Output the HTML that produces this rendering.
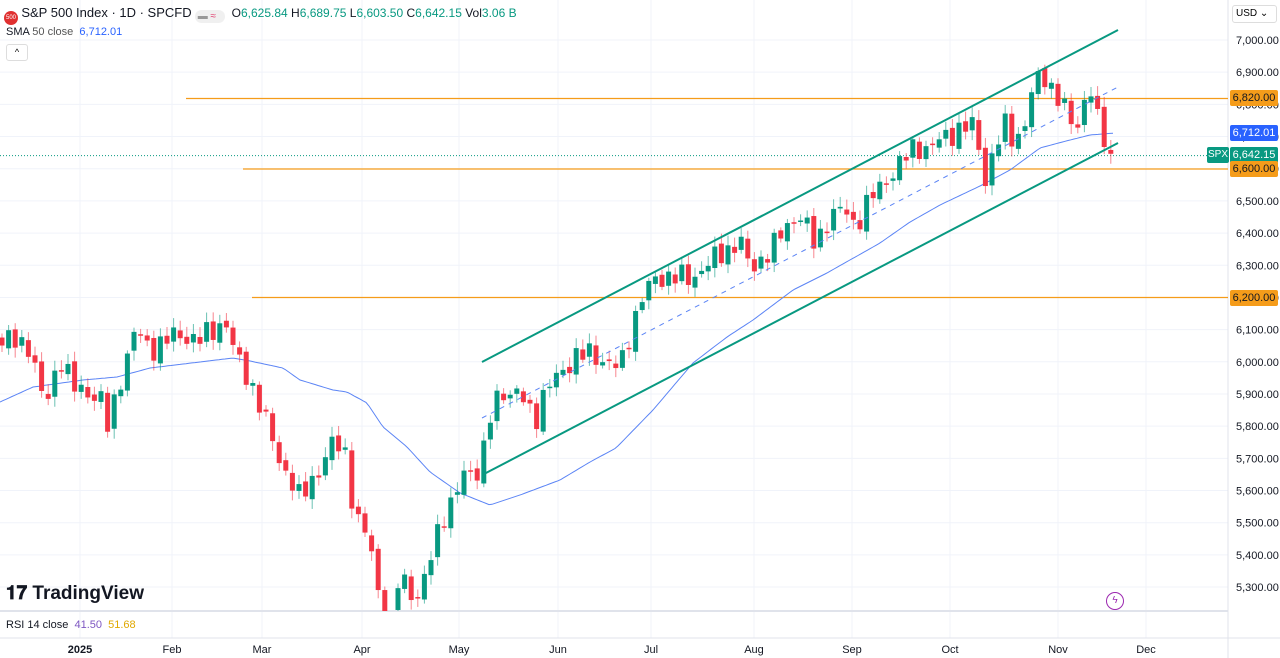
<!DOCTYPE html>
<html><head><meta charset="utf-8"><style>
body{margin:0;width:1280px;height:658px;overflow:hidden;background:#fff;font-family:"Liberation Sans",sans-serif;}
#c{position:absolute;left:0;top:0}
.t{position:absolute;font-size:12px;color:#131722;white-space:nowrap}
.lbl{position:absolute;left:1230px;width:48px;height:16px;font-size:11px;line-height:16px;text-align:center;border-radius:2px}
</style></head><body>
<svg id="c" width="1280" height="658" xmlns="http://www.w3.org/2000/svg"></svg>
<div class="t" style="left:4px;top:5px;"><span style="display:inline-block;width:14px;height:14px;border-radius:7px;background:#e03030;color:#fff;font-size:6px;line-height:14px;text-align:center;vertical-align:-2px">500</span> <span style="font-size:13px">S&amp;P 500 Index · 1D · SPCFD</span> <span style="display:inline-block;width:30px;height:13px;border-radius:7px;background:#f0f0f0;vertical-align:-2px;font-size:10px;color:#999;line-height:13px">&nbsp;▬ <span style="color:#e04070">≈</span></span>&nbsp; O<span style="color:#089981">6,625.84</span> H<span style="color:#089981">6,689.75</span> L<span style="color:#089981">6,603.50</span> C<span style="color:#089981">6,642.15</span> Vol<span style="color:#089981">3.06 B</span></div>
<div class="t" style="left:6px;top:26px;font-size:11px">SMA <span style="color:#555">50 close</span> &nbsp;<span style="color:#2962ff">6,712.01</span></div>
<div style="position:absolute;left:6px;top:44px;width:20px;height:15px;border:1px solid #ddd;border-radius:3px;font-size:9px;text-align:center;line-height:15px">^</div>
<div class="t" style="left:6px;top:583px;font-size:19px;font-weight:bold;color:#131722">𝟏𝟕 TradingView</div>
<div class="t" style="left:6px;top:619px;font-size:11px">RSI 14 close &nbsp;<span style="color:#7e57c2">41.50</span> &nbsp;<span style="color:#e0a800">51.68</span></div>
<div style="position:absolute;left:1232px;top:5px;width:40px;height:16px;border:1px solid #ddd;border-radius:3px;font-size:10px;line-height:16px;padding-left:3px">USD ⌄</div>
<div style="position:absolute;left:1106px;top:592px;width:16px;height:16px;border:1.5px solid #9c27b0;border-radius:50%;color:#9c27b0;font-size:10px;text-align:center;line-height:16px">ϟ</div>
<script>
(function(){
var s=document.getElementById('c'),ns='http://www.w3.org/2000/svg';
function el(n,a){var e=document.createElementNS(ns,n);for(var k in a)e.setAttribute(k,a[k]);s.appendChild(e);return e;}
function Y(p){return 40+(7000-p)*0.3218;}
for(var p=5300;p<=7000;p+=100){el('line',{x1:0,x2:1228,y1:Y(p),y2:Y(p),stroke:'#f0f3fa'});}
var mx=[80,172,262,362,459,558,651,754,852,950,1058,1146],mn=['2025','Feb','Mar','Apr','May','Jun','Jul','Aug','Sep','Oct','Nov','Dec'];
mx.forEach(function(x){el('line',{x1:x,x2:x,y1:0,y2:638,stroke:'#f0f3fa'});});
el('line',{x1:1228,x2:1228,y1:0,y2:658,stroke:'#e0e3eb'});
el('line',{x1:0,x2:1228,y1:611,y2:611,stroke:'#e0e3eb',"stroke-width":2});
el('line',{x1:0,x2:1280,y1:638,y2:638,stroke:'#e0e3eb'});
mx.forEach(function(x,i){var t=el('text',{x:x,y:653,"font-size":11,"text-anchor":"middle",fill:'#131722',"font-family":"Liberation Sans"});t.textContent=mn[i];if(i==0)t.setAttribute('font-weight','bold');});
for(var p=5300;p<=7000;p+=100){var t=el('text',{x:1236,y:Y(p)+4,"font-size":11,fill:'#131722',"font-family":"Liberation Sans"});t.textContent=(p/1000|0)+','+String(p%1000).padStart(3,'0')+'.00';}
el('line',{x1:186,x2:1228,y1:98.5,y2:98.5,stroke:'#f59c1a',"stroke-width":1.2});
el('line',{x1:243,x2:1228,y1:169,y2:169,stroke:'#f59c1a',"stroke-width":1.2});
el('line',{x1:252,x2:1228,y1:297.5,y2:297.5,stroke:'#f59c1a',"stroke-width":1.2});
el('line',{x1:0,x2:1228,y1:155.6,y2:155.6,stroke:'#089981',"stroke-dasharray":"1 2"});
function interp(w,x){for(var j=0;j<w.length-1;j++){if(x<=w[j+1][0]){var a=w[j],b=w[j+1];return a[1]+(b[1]-a[1])*(x-a[0])/(b[0]-a[0]);}}return w[w.length-1][1];}
var sma=[[0,402],[33,387],[83,380],[117,377],[150,368],[233,358],[250,361],[283,368],[300,380],[333,390],[347,392],[367,403],[383,427],[407,447],[430,472],[460,493],[490,505],[520,495],[560,480],[590,462],[616,448],[653,410],[693,363],[727,337],[753,320],[793,290],[827,273],[880,243],[910,222],[940,205],[980,186],[1010,170],[1040,148],[1070,140],[1090,135],[1115,133]];
var d='';for(var x=0;x<=1115;x+=3){d+=(x?'L':'M')+x+' '+interp(sma,x).toFixed(1);}
el('path',{d:d,fill:'none',stroke:'#5b84f5',"stroke-width":1});
var cw=[[0,340],[30,345],[45,410],[60,355],[75,390],[100,395],[108,430],[120,380],[135,330],[150,350],[165,340],[180,335],[200,340],[225,320],[235,355],[250,380],[265,420],[280,460],[300,500],[310,480],[320,470],[335,440],[345,450],[355,520],[370,540],[380,600],[390,635],[400,570],[410,590],[420,600],[430,560],[440,520],[455,500],[465,470],[480,470],[490,420],[500,390],[520,395],[535,420],[545,390],[560,375],[575,355],[590,355],[605,360],[620,370],[628,340],[640,300],[655,280],[670,275],[690,280],[700,270],[720,255],[740,240],[750,270],[760,260],[775,245],[790,220],[800,215],[815,245],[830,215],[845,210],[855,225],[870,200],[885,180],[900,165],[915,145],[930,150],[945,135],[960,130],[975,125],[985,180],[995,150],[1005,125],[1015,140],[1025,125],[1035,80],[1045,75],[1055,95],[1065,110],[1075,130],[1085,100],[1092,90],[1098,125],[1105,140],[1110,155],[1115,156]];
var prev=interp(cw,0),n=0;
function cl(v){return Math.min(v,611);}
for(var x=2;x<=1115;x+=6.6){n++;var c=interp(cw,x)+Math.sin(n*2.7)*9+Math.cos(n*1.3)*5;var o=prev+Math.sin(n*4.1)*3;
 var col=(c<o)?'#089981':'#f23645';var tp=Math.min(o,c),bt=Math.max(o,c);if(bt-tp<1.5)bt=tp+1.5;
 var hi=tp-3-Math.abs(Math.sin(n*3.3))*7,lo=bt+3+Math.abs(Math.cos(n*2.1))*7;
 if(tp<611){el('line',{x1:x,x2:x,y1:hi,y2:cl(lo),stroke:col,"stroke-opacity":0.6});el('rect',{x:x-2.5,y:tp,width:5,height:Math.max(1,cl(bt)-tp),fill:col});}
 prev=c;}
el('line',{x1:482,y1:362,x2:1118,y2:30,stroke:'#089981',"stroke-width":2});
el('line',{x1:484,y1:474,x2:1118,y2:143,stroke:'#089981',"stroke-width":2});
el('line',{x1:482,y1:418,x2:1118,y2:87,stroke:'#5b84f5',"stroke-width":1,"stroke-dasharray":"5 5"});
})();
</script>
<div class="lbl" style="top:90px;background:#f59c1a;color:#131722">6,820.00</div>
<div class="lbl" style="top:125px;background:#2962ff;color:#fff">6,712.01</div>
<div class="lbl" style="top:147px;background:#089981;color:#fff">6,642.15</div>
<div style="position:absolute;left:1207px;top:147px;width:22px;height:16px;background:#089981;color:#fff;font-size:10px;line-height:16px;text-align:center;border-radius:2px">SPX</div>
<div class="lbl" style="top:161px;background:#f59c1a;color:#131722">6,600.00</div>
<div class="lbl" style="top:290px;background:#f59c1a;color:#131722">6,200.00</div>
</body></html>
